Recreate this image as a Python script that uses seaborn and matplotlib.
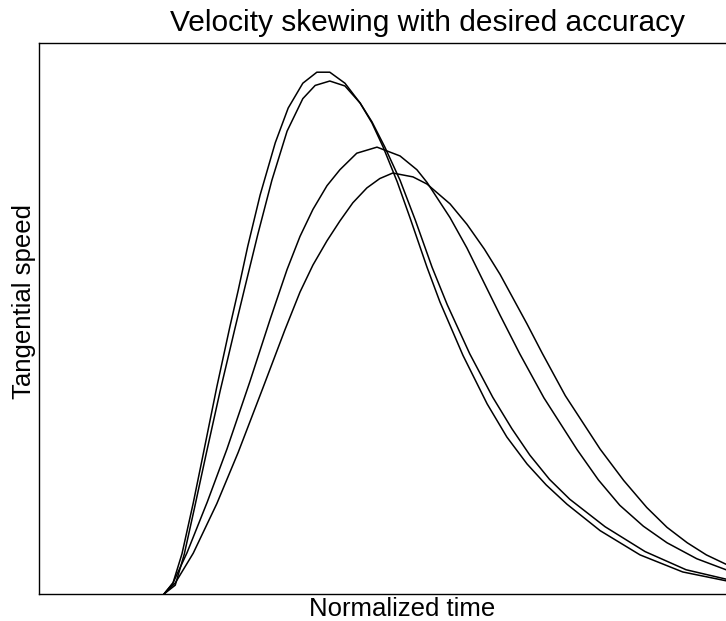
import numpy as np
import pandas as pd
import matplotlib
matplotlib.use("Agg")
import matplotlib.pyplot as plt
import seaborn as sns

# Normalized time / tangential speed (4 profiles)
t_a = [0.000, 0.016, 0.032, 0.052, 0.069, 0.094, 0.117, 0.132, 0.149, 0.171, 0.198, 0.221,
       0.247, 0.272, 0.295, 0.322, 0.349, 0.370, 0.390, 0.415, 0.438, 0.468, 0.491, 0.532,
       0.575, 0.610, 0.646, 0.680, 0.717, 0.776, 0.847, 0.923, 1.000]
v_a = [0.000, 0.020, 0.073, 0.165, 0.250, 0.376, 0.484, 0.551, 0.631, 0.724, 0.819, 0.882,
       0.927, 0.947, 0.947, 0.927, 0.891, 0.855, 0.811, 0.748, 0.682, 0.593, 0.530, 0.433,
       0.345, 0.285, 0.236, 0.198, 0.163, 0.115, 0.071, 0.040, 0.024]

t_b = [0.000, 0.020, 0.036, 0.054, 0.075, 0.100, 0.126, 0.144, 0.167, 0.192, 0.219, 0.247,
       0.269, 0.295, 0.322, 0.349, 0.370, 0.393, 0.420, 0.447, 0.477, 0.504, 0.544, 0.585,
       0.619, 0.651, 0.686, 0.722, 0.785, 0.856, 0.929, 1.000]
v_b = [0.000, 0.016, 0.072, 0.155, 0.254, 0.369, 0.481, 0.557, 0.653, 0.751, 0.840, 0.899,
       0.923, 0.931, 0.922, 0.891, 0.857, 0.811, 0.751, 0.679, 0.593, 0.525, 0.436, 0.357,
       0.300, 0.252, 0.208, 0.172, 0.122, 0.077, 0.044, 0.027]

t_c = [0.000, 0.016, 0.041, 0.077, 0.112, 0.153, 0.189, 0.219, 0.242, 0.265, 0.290, 0.313,
       0.343, 0.379, 0.420, 0.450, 0.468, 0.509, 0.539, 0.568, 0.598, 0.633, 0.676, 0.735,
       0.773, 0.811, 0.853, 0.895, 0.948, 1.000]
v_c = [0.000, 0.020, 0.075, 0.167, 0.263, 0.386, 0.499, 0.589, 0.649, 0.698, 0.741, 0.770,
       0.800, 0.811, 0.795, 0.770, 0.747, 0.683, 0.628, 0.568, 0.506, 0.436, 0.356, 0.262,
       0.207, 0.161, 0.123, 0.093, 0.064, 0.044]

t_d = [0.000, 0.020, 0.052, 0.094, 0.132, 0.176, 0.215, 0.242, 0.265, 0.290, 0.313, 0.336,
       0.361, 0.384, 0.407, 0.443, 0.468, 0.509, 0.539, 0.570, 0.598, 0.646, 0.673, 0.714,
       0.776, 0.818, 0.859, 0.895, 0.931, 0.965, 1.000]
v_d = [0.000, 0.020, 0.074, 0.164, 0.257, 0.374, 0.479, 0.548, 0.597, 0.641, 0.677, 0.710,
       0.737, 0.754, 0.764, 0.757, 0.744, 0.708, 0.671, 0.626, 0.580, 0.490, 0.437, 0.360,
       0.263, 0.206, 0.157, 0.121, 0.093, 0.071, 0.054]

profiles = ["A", "B", "C", "D"]
times = [t_a, t_b, t_c, t_d]
speeds = [v_a, v_b, v_c, v_d]

frames = []
for name, t, v in zip(profiles, times, speeds):
    frames.append(pd.DataFrame({"time": t, "speed": v, "profile": name}))
df = pd.concat(frames, ignore_index=True)

sns.set_theme(style="white")
plt.rcParams["font.family"] = ["Liberation Sans", "DejaVu Sans"]

W, H = 726, 621
fig = plt.figure(figsize=(W / 100, H / 100), dpi=100)
ax = fig.add_axes([39 / W, (H - 594) / H, (W - 39) / W, (594 - 43) / H])

sns.lineplot(data=df, x="time", y="speed", hue="profile", units="profile",
             estimator=None, sort=False, palette=["black"] * 4, linewidth=1.1,
             legend=False, ax=ax)

ax.set_xlim(-(164 - 39) / (726 - 164), 1.0)
ax.set_ylim(0, 1.0)
ax.set_xticks([])
ax.set_yticks([])
ax.set_xlabel("")
ax.set_ylabel("")
for side in ["left", "bottom", "top"]:
    ax.spines[side].set_visible(True)
    ax.spines[side].set_color("black")
    ax.spines[side].set_linewidth(1.0)
ax.spines["right"].set_visible(False)

fig.text(428 / W, 1 - 31 / H, "Velocity skewing with desired accuracy",
         ha="center", va="baseline", fontsize=21.5, color="black")
fig.text(402.5 / W, 1 - 616 / H, "Normalized time",
         ha="center", va="baseline", fontsize=18.5, color="black")
fig.text(24 / W, 1 - 301.5 / H, "Tangential speed", rotation=90,
         ha="center", va="center", fontsize=18.5, color="black")

fig.savefig("out.png", dpi=100, facecolor="white")
